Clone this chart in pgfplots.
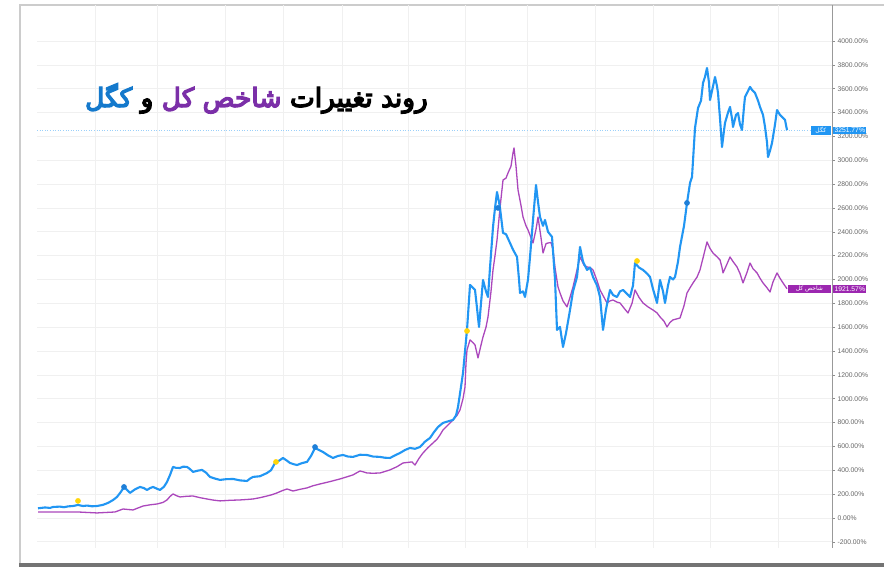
\documentclass[border=0pt]{standalone}
\usepackage{pgfplots}
\pgfplotsset{compat=1.18}
\usepackage{fontspec}
\setmainfont{Liberation Sans}
\newfontfamily\arabicfont[Script=Arabic]{DejaVu Sans}
\newfontfamily\arabictitle[Script=Arabic,FakeBold=5]{DejaVu Sans}
\TeXXeTstate=1
\definecolor{kblue}{HTML}{2196F3}
\definecolor{kpurple}{HTML}{AB47BC}
\definecolor{tblue}{HTML}{1479CC}
\definecolor{tpurple}{HTML}{7B2FA8}
\definecolor{boxpurple}{HTML}{9C27B0}
\definecolor{dotyellow}{HTML}{FFD60A}
\definecolor{dotblue}{HTML}{1E7FD8}
\begin{document}
\begin{tikzpicture}[x=1bp,y=1bp]
\useasboundingbox (0,0) rectangle (884,568);
% frame
\fill[white] (0,0) rectangle (884,568);
\fill[black!55] (19,1) rectangle (884,5);
\draw[black!20, line width=1.5bp] (20,5) -- (20,563) -- (884,563);
\begin{axis}[
  at={(37bp,20bp)}, anchor=south west,
  scale only axis, width=795bp, height=543bp,
  xmin=37, xmax=832, ymin=-252, ymax=4302,
  clip=false,
  axis line style={draw=none},
  xtick={95,157,225,283,342,408,465,527,595,653,710,778},
  xticklabels={}, x tick style={draw=none},
  ytick={-200,0,...,4000},
  yticklabel pos=right, ytick pos=right,
  tick align=outside, major tick length=3bp,
  y tick style={black!45, line width=0.5bp},
  xmajorgrids, ymajorgrids,
  grid style={color=black!6, line width=0.6bp},
  /pgf/number format/assume math mode=true,
  yticklabel={\pgfmathprintnumber[fixed,fixed zerofill,precision=2,1000 sep={}]{\tick}\%},
  yticklabel style={font=\fontsize{6.8}{8}\selectfont, text=black!60, xshift=-1bp},
]
\draw[black!40, line width=0.6bp] (rel axis cs:1,0) -- (rel axis cs:1,1);
% dotted last value line
\addplot[kblue!45, dotted, line width=0.6bp] coordinates {(37,3251.77) (832,3251.77)};
% شاخص کل
\addplot[kpurple, line width=1.3bp, line join=round] coordinates {
(38,50)(60,50)(78,50)(97,42)(115,50)(123,75)(133,67)(143,100)(150,110)(157,117)
(163,130)(167,151)(170,180)(173,201)(177,185)(180,176)(187,182)(193,184)(200,170)
(207,159)(213,150)(220,143)(230,148)(240,151)(247,155)(253,159)(260,170)(267,184)
(272,195)(277,210)(282,228)(287,243)(293,226)(300,240)(307,252)(313,270)(320,285)
(330,305)(340,327)(347,345)(353,361)(357,380)(360,394)(364,385)(367,377)(373,375)
(380,377)(385,390)(390,403)(397,430)(403,461)(408,466)(412,470)(415,444)(419,500)
(423,545)(428,590)(433,629)(437,660)(440,696)(443,738)(448,780)(453,822)(457,860)
(460,906)(463,1000)(465,1099)(466,1300)(467,1409)(470,1493)(473,1470)(475,1451)
(478,1342)(481,1450)(483,1518)(486,1600)(488,1686)(491,1900)(493,2080)(495,2200)
(497,2331)(500,2600)(503,2834)(506,2850)(508,2893)(511,2950)(513,3061)(514,3103)
(516,2950)(518,2751)(521,2620)(523,2524)(526,2450)(528,2415)(531,2350)(533,2306)
(536,2420)(538,2524)(541,2350)(543,2222)(546,2300)(548,2306)(551,2310)(553,2250)
(555,2100)(558,1937)(560,1887)(563,1820)(567,1770)(570,1850)(573,1937)(577,2080)
(580,2189)(584,2120)(587,2105)(590,2100)(593,2080)(597,1990)(600,1912)(604,1850)
(607,1803)(610,1820)(613,1828)(617,1810)(620,1803)(624,1760)(628,1719)(632,1800)
(635,1912)(639,1850)(643,1803)(648,1770)(653,1744)(657,1720)(660,1686)(664,1650)
(667,1602)(670,1640)(673,1661)(677,1670)(680,1677)(684,1780)(687,1887)(690,1930)
(693,1971)(697,2020)(700,2080)(703,2180)(707,2315)(710,2260)(713,2222)(717,2190)
(720,2164)(722,2100)(723,2055)(727,2130)(730,2189)(733,2150)(737,2105)(740,2050)
(743,1971)(747,2060)(750,2138)(753,2090)(757,2055)(760,2010)(763,1971)(767,1930)
(770,1895)(773,1980)(777,2055)(780,2010)(783,1971)(787,1922)
};
% کگل
\addplot[kblue, line width=2.1bp, line join=round] coordinates {
(38,81)(45,88)(50,84)(53,92)(60,95)(64,90)(68,97)(73,100)(78,109)(83,100)(87,104)(92,98)(97,100)(103,110)(108,126)
(113,150)(117,176)(121,220)(124,260)(127,235)(130,210)(135,240)(140,260)(144,250)
(147,235)(150,250)(153,260)(157,245)(160,235)(164,262)(167,302)(170,360)(173,428)
(176,420)(180,419)(183,430)(187,428)(190,410)(193,386)(197,395)(202,403)(206,380)
(210,344)(215,330)(220,319)(226,325)(233,327)(240,315)(247,310)(250,330)(253,344)
(260,350)(267,377)(271,400)(275,461)(279,480)(283,503)(287,480)(290,461)(294,450)
(297,444)(302,460)(307,470)(311,520)(315,587)(319,570)(323,553)(328,525)(333,503)
(338,520)(343,528)(348,515)(353,512)(360,530)(367,528)(373,515)(380,512)(385,505)
(390,503)(395,525)(400,545)(405,570)(410,587)(415,580)(420,595)(425,640)(430,671)
(434,720)(438,763)(443,797)(448,810)(453,822)(456,860)(458,931)(461,1100)(463,1216)
(465,1400)(467,1577)(470,1954)(473,1930)(475,1912)(477,1760)(479,1602)(481,1800)
(483,1996)(486,1900)(488,1853)(490,2100)(493,2440)(495,2600)(497,2734)(499,2650)
(500,2600)(503,2390)(506,2380)(510,2306)(513,2250)(517,2189)(519,2000)(520,1887)
(523,1900)(525,1853)(528,2000)(530,2189)(533,2500)(536,2793)(538,2650)(540,2524)
(543,2450)(545,2499)(548,2400)(552,2357)(555,2000)(557,1577)(560,1602)(563,1434)
(566,1550)(570,1744)(573,1900)(577,2021)(580,2273)(583,2150)(587,2080)(590,2100)
(593,2021)(597,1950)(600,1853)(603,1577)(606,1750)(610,1912)(613,1870)(617,1853)
(620,1900)(623,1912)(627,1880)(630,1853)(633,1950)(635,2138)(639,2100)(643,2080)
(647,2050)(650,2021)(653,1920)(657,1803)(660,1996)(663,1900)(665,1803)(668,1950)
(670,2021)(673,2000)(675,2021)(678,2150)(680,2273)(684,2450)(687,2642)(690,2809)
(692,2860)(695,3271)(698,3438)(701,3500)(703,3648)(705,3700)(707,3774)(709,3650)
(710,3505)(713,3620)(715,3698)(717,3620)(718,3564)(720,3350)(722,3111)(724,3250)
(725,3313)(728,3400)(730,3447)(732,3350)(733,3279)(736,3380)(738,3396)(740,3300)
(742,3254)(744,3450)(745,3531)(748,3580)(750,3615)(752,3590)(755,3564)(758,3500)
(760,3447)(763,3380)(765,3279)(767,3150)(768,3027)(770,3080)(772,3145)(775,3300)
(777,3421)(780,3380)(782,3363)(785,3338)(787,3252)
};
% event dots
\addplot[only marks, mark=*, mark size=2.6bp, dotyellow, mark options={draw=none}] coordinates {(78,143)(276,470)(467,1568)(637,2155)};
\addplot[only marks, mark=*, mark size=2.6bp, dotblue, mark options={draw=none}] coordinates {(124,260)(315,595)(498,2600)(687,2642)};
% last value labels
\node[fill=kblue, text=white, anchor=west, inner sep=1.3bp, font=\fontsize{6.8}{7}\selectfont] at (axis cs:833,3251.77) {3251.77\%};
\node[fill=kblue, text=white, anchor=east, inner sep=1.3bp, minimum width=20bp, font=\fontsize{6}{7}\selectfont] at (axis cs:831,3251.77) {\arabicfont\beginR کگل\endR};
\node[fill=boxpurple, text=white, anchor=west, inner sep=1.3bp, font=\fontsize{6.8}{7}\selectfont] at (axis cs:833,1921.57) {1921.57\%};
\node[fill=boxpurple, text=white, anchor=east, inner sep=1.3bp, minimum width=43bp, font=\fontsize{6}{7}\selectfont] at (axis cs:831,1921.57) {\arabicfont\beginR شاخص کل\endR};
\end{axis}
% title (placed right to left)
\begin{scope}[every node/.style={inner sep=0pt, font=\arabictitle\fontsize{26.5}{30}\selectfont}]
\node[anchor=base east] (t1) at (428,461) {\beginR روند تغییرات\endR};
\node[anchor=base east, text=tpurple] (t2) at ([xshift=-8bp]t1.base west) {\beginR شاخص کل\endR};
\node[anchor=base east] (t3) at ([xshift=-8bp]t2.base west) {\beginR و\endR};
\node[anchor=base east, text=tblue] (t4) at ([xshift=-8bp]t3.base west) {\beginR کگل\endR};
\end{scope}
\end{tikzpicture}
\end{document}
